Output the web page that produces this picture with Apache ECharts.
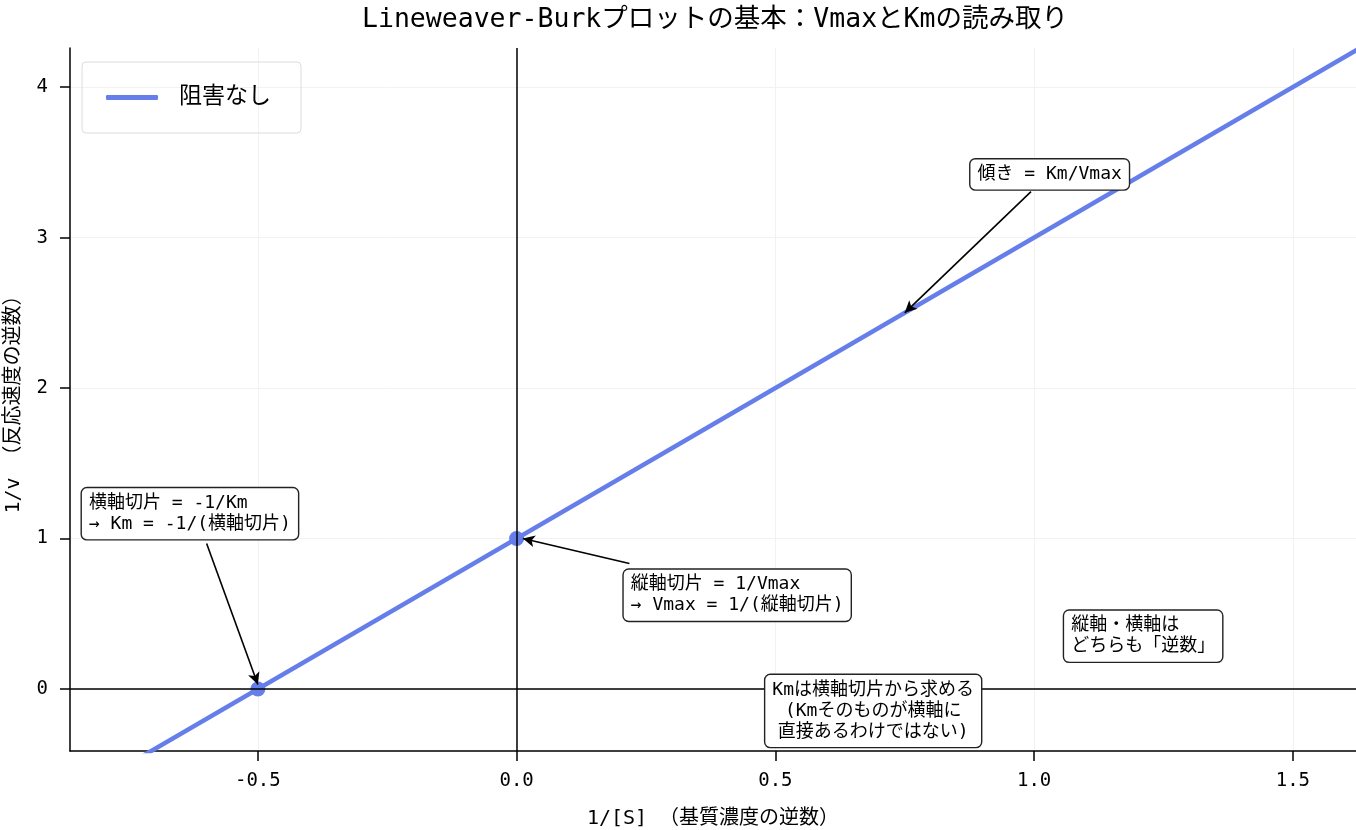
<!DOCTYPE html>
<html>
<head>
<meta charset="utf-8">
<script src="https://cdn.jsdelivr.net/npm/echarts@6/dist/echarts.min.js"></script>
<style>
html, body { margin: 0; padding: 0; background: #fff; }
#chart { width: 1356px; height: 830px; }
</style>
</head>
<body>
<div id="chart"></div>
<script>
// データ（1/[S], 1/v）
var lineX = [-0.8, 1.7];
var lineY = [-0.6, 4.4];
var interceptX = [-0.5, 0];
var interceptY = [0, 1];
var xTicks = [-0.5, 0, 0.5, 1, 1.5];
var yTicks = [0, 1, 2, 3, 4];

// 注釈（データ座標）: at = 文字位置, from/to = 矢印
var notes = [
    {text: '傾き = Km/Vmax', at: [1.03, 3.42], from: [0.994, 3.305], to: [0.75, 2.5]},
    {text: '横軸切片 = -1/Km\n→ Km = -1/(横軸切片)', at: [-0.84, 1.165], from: [-0.599, 0.967], to: [-0.5, 0.03], align: 'left'},
    {text: '縦軸切片 = 1/Vmax\n→ Vmax = 1/(縦軸切片)', at: [0.207, 0.623], from: [0.218, 0.834], to: [0.012, 1.0], align: 'left'},
    {text: '縦軸・横軸は\nどちらも「逆数」', at: [1.058, 0.351], align: 'left'},
    {text: 'Kmは横軸切片から求める\n(Kmそのものが横軸に\n直接あるわけではない)', at: [0.689, -0.146]}
];

var FONT = "'DejaVu Sans Mono', 'Noto Sans CJK JP', sans-serif";
var BLUE = '#667eea';

var dom = document.getElementById('chart');
var myChart = echarts.init(dom);

var lineData = lineX.map(function (x, i) { return [x, lineY[i]]; });
var pointData = interceptX.map(function (x, i) { return [x, interceptY[i]]; });

var boxPoints = notes.map(function (n) {
    return {
        coord: n.at,
        label: {align: n.align || 'center'}
    };
});
var arrowLines = notes.filter(function (n) { return n.from; }).map(function (n) {
    return [{coord: n.from}, {coord: n.to}];
});

option = {
    animation: false,
    textStyle: {fontFamily: FONT},
    title: {
        text: 'Lineweaver-Burkプロットの基本：VmaxとKmの読み取り',
        left: 710,
        top: 2,
        textAlign: 'center',
        textStyle: {fontFamily: FONT, fontSize: 26.5, fontWeight: 'normal', color: '#000'}
    },
    legend: {
        data: ['阻害なし'],
        left: 82,
        top: 62,
        padding: [24, 30, 24, 24],
        itemWidth: 52,
        itemHeight: 5,
        icon: 'roundRect',
        borderColor: '#dcdcdc',
        borderWidth: 1,
        borderRadius: 4,
        textStyle: {fontFamily: FONT, fontSize: 23, color: '#000', padding: [0, 0, 0, 16]}
    },
    grid: {left: 70, right: 0, top: 48, bottom: 79, containLabel: false, outerBoundsMode: 'none'},
    xAxis: {
        type: 'value',
        min: -0.863,
        max: 1.622,
        name: '1/[S] （基質濃度の逆数）',
        nameLocation: 'middle',
        nameGap: 58,
        nameTextStyle: {fontFamily: FONT, fontSize: 20, color: '#000'},
        axisLine: {show: true, onZero: false, lineStyle: {color: '#000', width: 1.5}},
        axisTick: {show: true, customValues: xTicks, length: 10, lineStyle: {color: '#000', width: 1.5}},
        axisLabel: {
            customValues: xTicks,
            margin: 21,
            fontFamily: FONT, fontSize: 19, color: '#000',
            formatter: function (v) { return v.toFixed(1); }
        },
        splitLine: {show: true, lineStyle: {color: '#f2f2f2', width: 1}}
    },
    yAxis: {
        type: 'value',
        min: -0.412,
        max: 4.26,
        name: '1/v （反応速度の逆数）',
        nameLocation: 'middle',
        nameGap: 46,
        nameTextStyle: {fontFamily: FONT, fontSize: 20, color: '#000'},
        axisLine: {show: true, onZero: false, lineStyle: {color: '#000', width: 1.5}},
        axisTick: {show: true, customValues: yTicks, length: 10, lineStyle: {color: '#000', width: 1.5}},
        axisLabel: {
            customValues: yTicks,
            margin: 22,
            fontFamily: FONT, fontSize: 19, color: '#000',
            formatter: function (v) { return String(Math.round(v)); }
        },
        splitLine: {show: true, lineStyle: {color: '#f2f2f2', width: 1}}
    },
    series: [
        {
            name: '軸',
            type: 'line',
            data: [],
            silent: true,
            z: 1,
            markLine: {
                silent: true,
                symbol: ['none', 'none'],
                label: {show: false},
                lineStyle: {color: '#000', width: 1.5, type: 'solid'},
                data: [{xAxis: 0}, {yAxis: 0}]
            }
        },
        {
            name: '阻害なし',
            type: 'line',
            data: lineData,
            showSymbol: false,
            clip: true,
            z: 3,
            lineStyle: {color: BLUE, width: 4.5},
            itemStyle: {color: BLUE}
        },
        {
            name: '切片',
            type: 'scatter',
            data: pointData,
            symbolSize: 15,
            z: 4,
            itemStyle: {color: BLUE, opacity: 1}
        },
        {
            name: '注釈',
            type: 'line',
            data: [],
            z: 6,
            markLine: {
                silent: true,
                symbol: ['none', 'arrow'],
                symbolSize: [9, 12],
                label: {show: false},
                lineStyle: {color: '#000', width: 1.6, type: 'solid'},
                data: arrowLines
            },
            markPoint: {
                silent: true,
                symbol: 'circle',
                symbolSize: 0,
                label: {
                    show: true,
                    position: 'inside',
                    formatter: function (p) { return notes[p.dataIndex].text; },
                    fontFamily: FONT,
                    fontSize: 18,
                    lineHeight: 21,
                    color: '#000',
                    backgroundColor: '#fff',
                    borderColor: '#222',
                    borderWidth: 1.4,
                    borderRadius: 5,
                    padding: [5, 7, 4, 7]
                },
                data: boxPoints
            }
        }
    ]
};

if (option && typeof option === "object") {
    myChart.setOption(option, true);
}
</script>
</body>
</html>
